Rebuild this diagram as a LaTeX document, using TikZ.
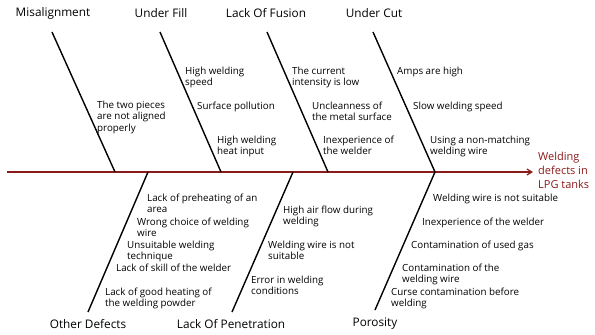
\documentclass[tikz,border=0pt]{standalone}
\usepackage{fontspec}
\setmainfont{Open Sans}
\usetikzlibrary{arrows.meta}
\definecolor{spinered}{RGB}{139,26,26}
\begin{document}
\begin{tikzpicture}[x=1pt,y=-1pt,
  cat/.style={font=\fontsize{11.8}{14}\selectfont, inner sep=0pt},
  cause/.style={font=\fontsize{9.8}{11.5}\selectfont, align=left, anchor=north west, inner sep=0pt},
  bone/.style={line width=1.4pt, black},
  spine/.style={line width=1.2pt, spinered, -{Straight Barb[length=5pt,width=6pt]}}]
\useasboundingbox (0,0) rectangle (595,335);
% spine
\coordinate (s0) at (7,172);
\coordinate (s1) at (533,172);
\draw[spine] (s0) -- (s1);
\node[font=\fontsize{11}{14}\selectfont, text=spinered, align=left, anchor=west, inner sep=0pt] (effect) at (538,170) {Welding\\defects in\\LPG tanks};
% bone ends
\coordinate (m1) at (52,32);  \coordinate (m2) at (115,172);
\coordinate (u1) at (160,32); \coordinate (u2) at (221,172);
\coordinate (f1) at (267,32); \coordinate (f2) at (328,172);
\coordinate (c1) at (373,32); \coordinate (c2) at (435,172);
\coordinate (o1) at (148,172); \coordinate (o2) at (88,312);
\coordinate (p1) at (293,172); \coordinate (p2) at (232,312);
\coordinate (r1) at (435,172); \coordinate (r2) at (375,310);
\draw[bone] (m1) -- (m2);
\draw[bone] (u1) -- (u2);
\draw[bone] (f1) -- (f2);
\draw[bone] (c1) -- (c2);
\draw[bone] (o1) -- (o2);
\draw[bone] (p1) -- (p2);
\draw[bone] (r1) -- (r2);
% category labels
\node[cat] (mis) at (53,13) {Misalignment};
\node[cat] (ufill) at (161,13) {Under Fill};
\node[cat] (lof) at (266,13) {Lack Of Fusion};
\node[cat] (ucut) at (374,13) {Under Cut};
\node[cat] (oth) at (88,324) {Other Defects};
\node[cat] (lop) at (231,324) {Lack Of Penetration};
\node[cat] (por) at (375,324) {Porosity};
% causes: Misalignment
\node[cause] (m-a) at (97,100.5) {The two pieces\\are not aligned\\properly};
% Under Fill
\node[cause] (u-a) at (185,66.5) {High welding\\speed};
\node[cause] (u-b) at (197,101.5) {Surface pollution};
\node[cause] (u-c) at (217,135.5) {High welding\\heat input};
% Lack Of Fusion
\node[cause] (f-a) at (292,66.5) {The current\\intensity is low};
\node[cause] (f-b) at (312,101.5) {Uncleanness of\\the metal surface};
\node[cause] (f-c) at (323,135.5) {Inexperience of\\the welder};
% Under Cut
\node[cause] (c-a) at (397,66.5) {Amps are high};
\node[cause] (c-b) at (413,101.5) {Slow welding speed};
\node[cause] (c-c) at (430,135.5) {Using a non-matching\\welding wire};
% Other Defects
\node[cause] (o-a) at (147,193.5) {Lack of preheating of an\\area};
\node[cause] (o-b) at (137,217.5) {Wrong choice of welding\\wire};
\node[cause] (o-c) at (127,240.5) {Unsuitable welding\\technique};
\node[cause] (o-d) at (116,263.5) {Lack of skill of the welder};
\node[cause] (o-e) at (105,287.5) {Lack of good heating of\\the welding powder};
% Lack Of Penetration
\node[cause] (p-a) at (283,205.5) {High air flow during\\welding};
\node[cause] (p-b) at (268,240.5) {Welding wire is not\\suitable};
\node[cause] (p-c) at (251,275.5) {Error in welding\\conditions};
% Porosity
\node[cause] (r-a) at (433,193.5) {Welding wire is not suitable};
\node[cause] (r-b) at (422,217.5) {Inexperience of the welder};
\node[cause] (r-c) at (411,240.5) {Contamination of used gas};
\node[cause] (r-d) at (402,263.5) {Contamination of the\\welding wire};
\node[cause] (r-e) at (391,287.5) {Curse contamination before\\welding};
\end{tikzpicture}
\end{document}
